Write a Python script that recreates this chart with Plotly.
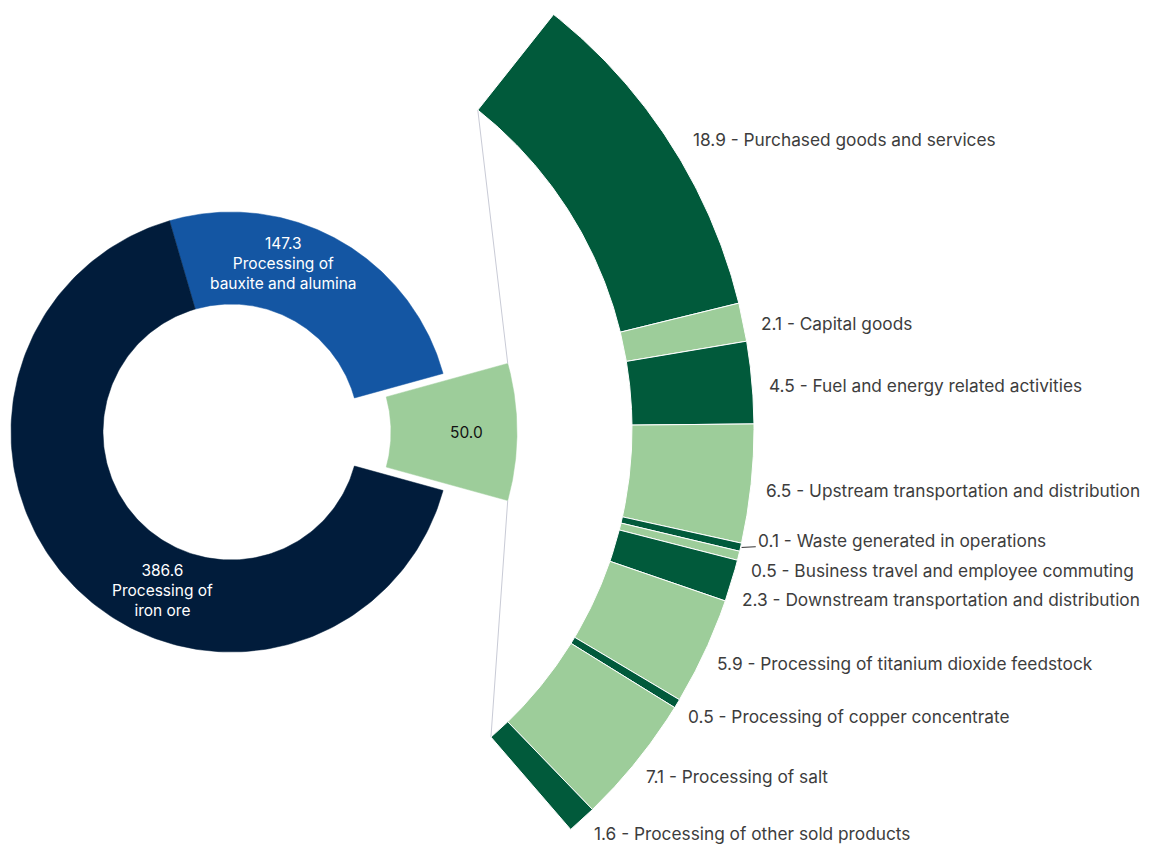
import numpy as np
import plotly.graph_objects as go

W, H = 1155, 845
PAGE_MARGIN = 8  # default body margin of the page; the axes are shifted to compensate

# ---------------- data ----------------
donut_names = ["Processing of iron ore", "Processing of bauxite and alumina", "Other"]
donut_values = [386.6, 147.3, 50.0]
donut_text = ["386.6<br>Processing of<br>iron ore", "147.3<br>Processing of<br>bauxite and alumina", "50.0"]

ring_names = [
    "Purchased goods and services",
    "Capital goods",
    "Fuel and energy related activities",
    "Upstream transportation and distribution",
    "Waste generated in operations",
    "Business travel and employee commuting",
    "Downstream transportation and distribution",
    "Processing of titanium dioxide feedstock",
    "Processing of copper concentrate",
    "Processing of salt",
    "Processing of other sold products",
]
ring_values = [18.9, 2.1, 4.5, 6.5, 0.1, 0.5, 2.3, 5.9, 0.5, 7.1, 1.6]

# ---------------- style ----------------
NAVY, BLUE, DARK, LIGHT = "#011c3b", "#1456a3", "#015a3b", "#9dcd9a"
donut_colors = [NAVY, BLUE, LIGHT]
ring_colors = [DARK if i % 2 == 0 else LIGHT for i in range(len(ring_values))]
TXT = "#3d3d3d"
FONT = "Inter"

# geometry (pixels)
DC = (231.0, 432.0)        # donut centre
D_R0, D_R1 = 128.0, 220.0  # donut radii
SEL_PULL = 28.0
SEL_R0, SEL_R1 = 132.0, 258.0
RC = (225.0, 429.0)        # ring centre
R_R0, R_R1 = 407.0, 529.0
RING_SPAN = 100.8
RING_MID = 1.2
MIN_SLICE = 0.45           # minimum displayed slice size (visual only)
LABEL_RY = 545.0           # radius used for label heights
LABEL_DY = 5.0
LABEL_C = (205.0, 424.0)   # circle the label x positions follow
LABEL_R = 563.0
LABEL_MAX_Y = H - 12.0     # keep the lowest label fully visible


def sector(cx, cy, r0, r1, a0, a1, n=90):
    a = np.radians(np.linspace(a0, a1, n))
    xs = np.concatenate([cx + r1 * np.cos(a), cx + r0 * np.cos(a[::-1])])
    ys = np.concatenate([cy - r1 * np.sin(a), cy - r0 * np.sin(a[::-1])])
    return np.append(xs, xs[0]), np.append(ys, ys[0])


def pt(c, r, a):
    return c[0] + r * np.cos(np.radians(a)), c[1] - r * np.sin(np.radians(a))


fig = go.Figure()

# ---------------- donut ----------------
total = sum(donut_values)
deg = 360.0 / total
sel = 2
order = [2, 1, 0]  # counter-clockwise from the pulled slice
start = -donut_values[sel] * deg / 2
angles = {}
a = start
for i in order:
    angles[i] = (a, a + donut_values[i] * deg)
    a += donut_values[i] * deg

sel_c = pt(DC, SEL_PULL, 0.0)
for i in order:
    a0, a1 = angles[i]
    if i == sel:
        xs, ys = sector(sel_c[0], sel_c[1], SEL_R0, SEL_R1, a0, a1)
    else:
        xs, ys = sector(DC[0], DC[1], D_R0, D_R1, a0, a1, n=200)
    fig.add_trace(go.Scatter(x=xs, y=ys, fill="toself", fillcolor=donut_colors[i], mode="lines",
                             line=dict(color=donut_colors[i], width=0.5), name=donut_names[i],
                             hoveron="fills", text=f"{donut_names[i]}: {donut_values[i]}", hoverinfo="text"))

# labels on donut
lbl_pos = {0: pt(DC, 173, 246.7), 1: pt(DC, 176, 72.8), 2: pt(sel_c, 207, 0.0)}
for i in range(3):
    fig.add_annotation(x=lbl_pos[i][0], y=lbl_pos[i][1], text=donut_text[i], showarrow=False,
                       xref="x", yref="y", align="center",
                       font=dict(family=FONT, size=15.5, color="white" if i != sel else "#111111"))

# ---------------- connector lines ----------------
sa0, sa1 = angles[sel]
ring_top = RING_MID + RING_SPAN / 2
ring_bot = RING_MID - RING_SPAN / 2
for sa, ra in [(sa1, ring_top), (sa0, ring_bot)]:
    p0 = pt(sel_c, SEL_R1, sa)
    p1 = pt(RC, R_R0, ra)
    fig.add_trace(go.Scatter(x=[p0[0], p1[0]], y=[p0[1], p1[1]], mode="lines",
                             line=dict(color="#c9cbd6", width=1), hoverinfo="skip"))

# ---------------- ring ----------------
disp = [max(v, MIN_SLICE) for v in ring_values]
k = RING_SPAN / sum(disp)
cum = 0.0
mids = []
for i, v in enumerate(ring_values):
    a0 = ring_top - cum * k
    a1 = ring_top - (cum + disp[i]) * k
    xs, ys = sector(RC[0], RC[1], R_R0, R_R1, a1, a0)
    fig.add_trace(go.Scatter(x=xs, y=ys, fill="toself", fillcolor=ring_colors[i], mode="lines",
                             line=dict(color="white", width=1), name=ring_names[i],
                             hoveron="fills", text=f"{v} - {ring_names[i]}", hoverinfo="text"))
    mids.append((a0 + a1) / 2)
    cum += disp[i]

# ring labels with simple collision avoidance
nat_y = [pt(RC, LABEL_RY, m)[1] + LABEL_DY for m in mids]
GAP = 29.5
groups = [[i] for i in range(len(nat_y))]
ys_lab = list(nat_y)
changed = True
while changed:
    changed = False
    new = []
    for g in groups:
        if new:
            prev = new[-1]
            if ys_lab[g[0]] - ys_lab[prev[-1]] < GAP:
                merged = prev + g
                mean = np.mean([nat_y[j] for j in merged])
                n = len(merged)
                for idx, j in enumerate(merged):
                    ys_lab[j] = mean + (idx - (n - 1) / 2) * GAP
                new[-1] = merged
                changed = True
                continue
        new.append(g)
    groups = new

for i, v in enumerate(ring_values):
    y = min(ys_lab[i], LABEL_MAX_Y)
    dy = y - LABEL_C[1]
    x = LABEL_C[0] + np.sqrt(max(LABEL_R ** 2 - dy ** 2, 0))
    if abs(y - nat_y[i]) > 14:
        e = pt(RC, R_R1 + 1, mids[i])
        fig.add_trace(go.Scatter(x=[e[0], x], y=[e[1], y + 6], mode="lines",
                                 line=dict(color="#333333", width=1), hoverinfo="skip"))
    fig.add_annotation(x=x, y=y, text=f"{v} - {ring_names[i]}", showarrow=False,
                       xref="x", yref="y", xanchor="left", yanchor="middle",
                       font=dict(family=FONT, size=17.3, color=TXT))

fig.update_layout(
    width=W - PAGE_MARGIN, height=H - PAGE_MARGIN, autosize=False,
    margin=dict(l=0, r=0, t=0, b=0),
    paper_bgcolor="white", plot_bgcolor="white",
    showlegend=False,
    xaxis=dict(range=[PAGE_MARGIN, W], visible=False, fixedrange=True),
    yaxis=dict(range=[H, PAGE_MARGIN], visible=False, fixedrange=True),
)

fig.write_html("out.html")
